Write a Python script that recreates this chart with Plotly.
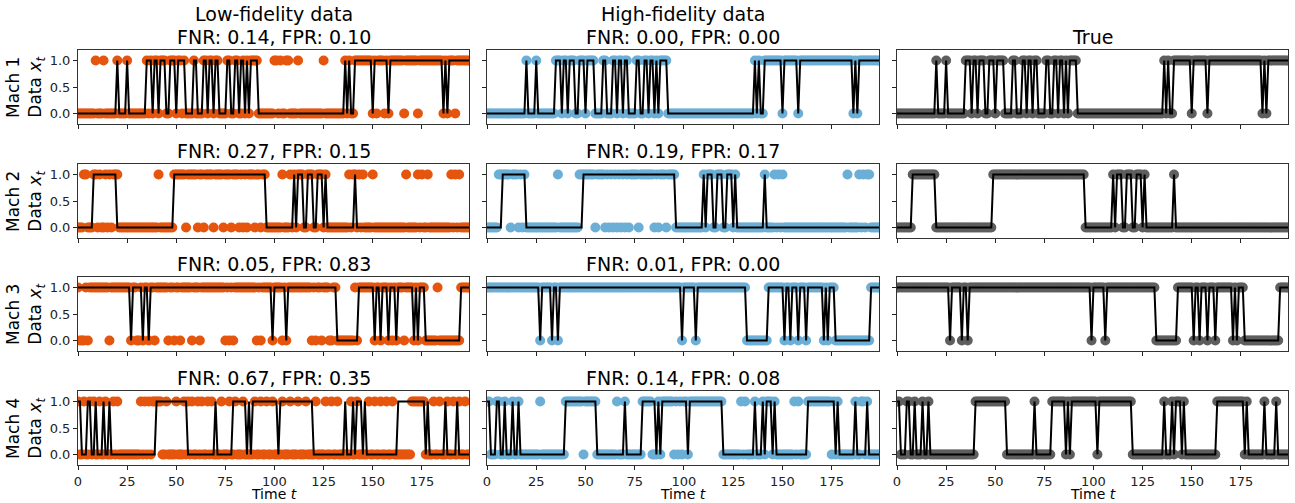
import numpy as np
import plotly.graph_objects as go
from plotly.subplots import make_subplots

T = 200
TIME = list(range(T))
MACHINES = ["Mach 1", "Mach 2", "Mach 3", "Mach 4"]
COL_TITLES = ["Low-fidelity data", "High-fidelity data", "True"]
LOW_RATES = [(0.14, 0.10), (0.27, 0.15), (0.05, 0.83), (0.67, 0.35)]
HIGH_RATES = [(0.00, 0.00), (0.19, 0.17), (0.01, 0.00), (0.14, 0.08)]
X_TICKS = [0, 25, 50, 75, 100, 125, 150, 175]
Y_TICKS = [0.0, 0.5, 1.0]
Y_TICKTEXT = ["0.0", "0.5", "1.0"]

# true machine states: inclusive intervals (start, end) where state == 1
TRUE_ON_M1 = [(20, 20), (25, 25), (35, 37), (39, 40), (42, 44), (47, 49), (51, 54), (59, 60),
              (64, 65), (67, 68), (70, 71), (76, 77), (80, 81), (83, 84), (86, 86), (88, 91),
              (136, 136), (138, 138), (141, 149), (151, 157), (159, 185), (187, 187), (189, 199)]
TRUE_ON_M2 = [(8, 19), (49, 95), (110, 110), (112, 114), (117, 119), (122, 124), (126, 126),
              (141, 141)]
TRUE_ON_M3 = [(0, 26), (28, 32), (34, 35), (37, 98), (100, 105), (107, 131), (143, 150),
              (152, 153), (155, 157), (159, 161), (163, 170), (172, 172), (174, 176), (195, 199)]
TRUE_ON_M4 = [(0, 1), (5, 6), (9, 9), (13, 13), (16, 16), (40, 55), (70, 70), (79, 85), (87, 87),
              (89, 101), (103, 119), (136, 136), (140, 140), (142, 144), (146, 146), (163, 176),
              (178, 178), (187, 187), (193, 193)]

# low-fidelity observations: time steps where observation differs from truth
LOW_FLIPS_M1 = [9, 13, 36, 53, 60, 83, 100, 101, 103, 106, 107, 112, 125, 152, 156, 166, 173, 192]
LOW_FLIPS_M2 = [3, 4, 10, 12, 13, 15, 17, 20, 41, 55, 61, 64, 69, 74, 78, 82, 84, 86, 90, 93,
                104, 108, 138, 140, 143, 145, 150, 167, 173, 175, 178, 190, 192, 194]
LOW_FLIPS_M3 = [1, 2, 3, 5, 16, 30, 31, 39, 46, 49, 52, 58, 62, 75, 77, 79, 91, 93, 104, 119,
                121, 124, 128, 129, 141, 160, 166, 183]
# low-fidelity machine 4: time steps observed as 1
LOW_ONES_M4 = [0, 3, 6, 8, 11, 14, 18, 20, 32, 34, 36, 38, 39, 40, 41, 42, 45, 50, 54, 56, 58,
               61, 63, 66, 68, 73, 77, 80, 84, 90, 93, 96, 99, 104, 108, 112, 116, 121, 126, 129,
               132, 139, 142, 148, 151, 154, 157, 160, 170, 171, 172, 173, 174, 175, 176, 181,
               184, 188, 191, 194, 197]

# high-fidelity observations: time steps where observation differs from truth
HIGH_FLIPS_M1 = []
HIGH_FLIPS_M2 = [6, 7, 12, 16, 18, 36, 47, 48, 55, 60, 62, 64, 66, 68, 70, 72, 77, 85, 87, 91,
                 146, 148, 150, 183, 189, 191, 193, 194]
HIGH_FLIPS_M3 = []
HIGH_FLIPS_M4 = [27, 49, 66, 84, 85, 95, 97, 99, 129, 131, 156, 158, 175, 190, 191]


def expand(intervals):
    a = np.zeros(T, dtype=int)
    for s, e in intervals:
        a[s:e + 1] = 1
    return a


def flip(truth, idx):
    o = truth.copy()
    for i in idx:
        o[i] = 1 - o[i]
    return o


truths = [expand(v) for v in (TRUE_ON_M1, TRUE_ON_M2, TRUE_ON_M3, TRUE_ON_M4)]
low_obs = [flip(truths[0], LOW_FLIPS_M1), flip(truths[1], LOW_FLIPS_M2),
           flip(truths[2], LOW_FLIPS_M3), None]
m4 = np.zeros(T, dtype=int)
m4[LOW_ONES_M4] = 1
low_obs[3] = m4
high_obs = [flip(truths[0], HIGH_FLIPS_M1), flip(truths[1], HIGH_FLIPS_M2),
            flip(truths[2], HIGH_FLIPS_M3), flip(truths[3], HIGH_FLIPS_M4)]

W, H = 1295, 503
COL_PX = [(78, 469), (487, 879), (897, 1288)]
ROW_PX = [(50, 124), (164, 238), (277, 351), (391, 465)]
COLORS = ["#E6550D", "#6BAED6", "#5E5E5E"]
FONT = "DejaVu Sans"


def px_y(p):
    return 1 - p / H


fig = make_subplots(rows=4, cols=3)

for r in range(4):
    for c in range(3):
        obs = [low_obs[r], high_obs[r], truths[r]][c]
        fig.add_trace(go.Scatter(x=TIME, y=obs, mode="markers",
                                 marker=dict(color=COLORS[c], size=10, line=dict(width=0)),
                                 showlegend=False, cliponaxis=True), row=r + 1, col=c + 1)
        fig.add_trace(go.Scatter(x=TIME, y=truths[r], mode="lines",
                                 line=dict(color="black", width=2),
                                 showlegend=False), row=r + 1, col=c + 1)
        k = r * 3 + c + 1
        xa = "xaxis" if k == 1 else f"xaxis{k}"
        ya = "yaxis" if k == 1 else f"yaxis{k}"
        x0, x1 = COL_PX[c]
        y0, y1 = ROW_PX[r]
        fig.layout[xa].update(domain=[x0 / W, x1 / W], range=[0, 199], tickvals=X_TICKS,
                              ticks="outside", ticklen=4, tickwidth=1, tickcolor="#222",
                              showline=True, mirror=True, linecolor="#333", linewidth=1,
                              showgrid=False, zeroline=False, showticklabels=(r == 3),
                              automargin=False,
                              tickfont=dict(family=FONT, size=13, color="#222"))
        fig.layout[ya].update(domain=[px_y(y1), px_y(y0)], range=[-0.2, 1.2],
                              tickvals=Y_TICKS, ticktext=Y_TICKTEXT,
                              ticks="outside", ticklen=4, tickwidth=1, tickcolor="#222",
                              showline=True, mirror=True, linecolor="#333", linewidth=1,
                              showgrid=False, zeroline=False, showticklabels=(c == 0),
                              automargin=False,
                              tickfont=dict(family=FONT, size=13, color="#222"))

        xc = (x0 + x1) / 2 / W
        tfont = dict(family=FONT, size=19, color="black")
        if c < 2:
            rates = (LOW_RATES if c == 0 else HIGH_RATES)[r]
            txt = f"FNR: {rates[0]:.2f}, FPR: {rates[1]:.2f}"
            fig.add_annotation(x=xc, y=px_y(y0 - 13), xref="paper", yref="paper", text=txt,
                               showarrow=False, xanchor="center", yanchor="middle", font=tfont)
            if r == 0:
                fig.add_annotation(x=xc, y=px_y(14), xref="paper", yref="paper",
                                   text=COL_TITLES[c], showarrow=False, xanchor="center",
                                   yanchor="middle", font=tfont)
        elif r == 0:
            fig.add_annotation(x=xc, y=px_y(y0 - 13), xref="paper", yref="paper",
                               text=COL_TITLES[2], showarrow=False, xanchor="center",
                               yanchor="middle", font=tfont)

    # y labels
    y0, y1 = ROW_PX[r]
    fig.add_annotation(x=25 / W, y=px_y((y0 + y1) / 2), xref="paper", yref="paper",
                       text=f"{MACHINES[r]}<br>Data <i>x<sub>t</sub></i>", showarrow=False,
                       textangle=-90, xanchor="center", yanchor="middle",
                       font=dict(family=FONT, size=17, color="black"))

for c in range(3):
    x0, x1 = COL_PX[c]
    fig.add_annotation(x=(x0 + x1) / 2 / W, y=px_y(494), xref="paper", yref="paper",
                       text="Time <i>t</i>", showarrow=False, xanchor="center",
                       yanchor="middle", font=dict(family=FONT, size=14, color="black"))

fig.update_layout(width=W, height=H, margin=dict(l=0, r=0, t=0, b=0, autoexpand=False),
                  plot_bgcolor="white", paper_bgcolor="white",
                  font=dict(family=FONT))

fig.write_html("out.html", config={"displayModeBar": False},
               post_script="document.body.style.margin='0';"
                           "document.documentElement.style.overflow='hidden';")
